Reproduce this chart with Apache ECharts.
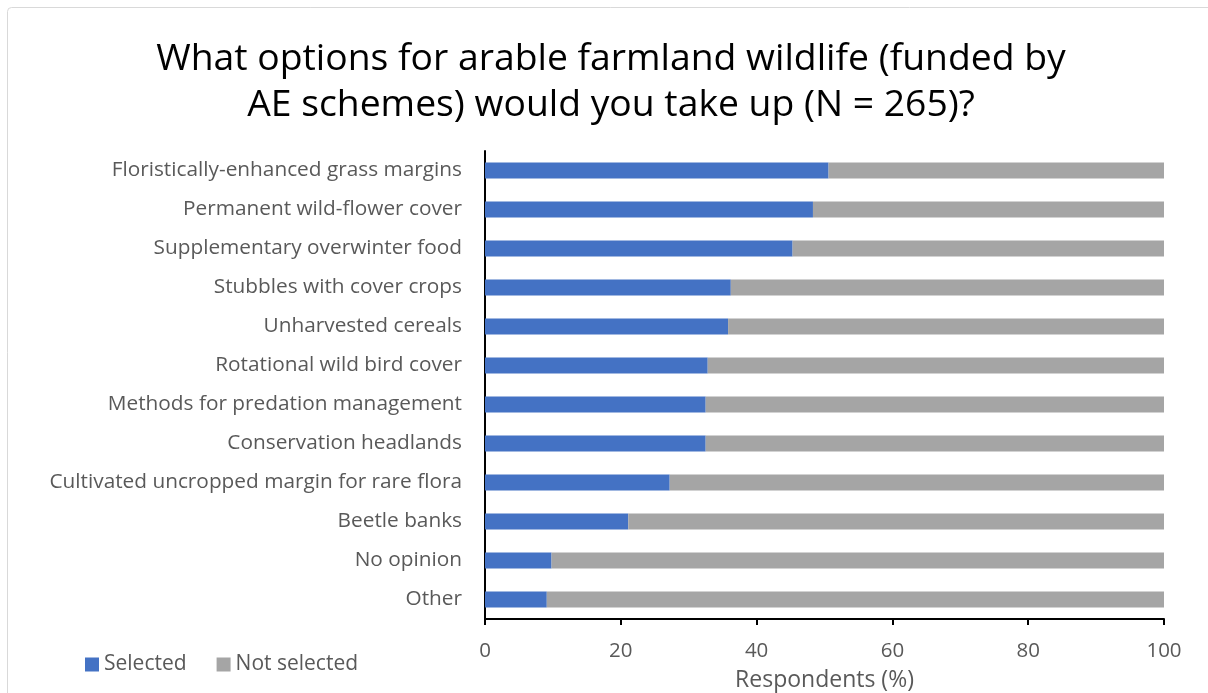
<!DOCTYPE html>
<html>
<head>
<meta charset="utf-8">
<script src="https://cdn.jsdelivr.net/npm/echarts@6/dist/echarts.min.js"></script>
<style>
  html, body { margin: 0; padding: 0; background: #ffffff; overflow: hidden; }
  #chart { width: 1208px; height: 693px; }
</style>
</head>
<body>
<div id="chart"></div>
<script>
// Options listed from top of the chart to bottom
const categories = [
  'Floristically-enhanced grass margins',
  'Permanent wild-flower cover',
  'Supplementary overwinter food',
  'Stubbles with cover crops',
  'Unharvested cereals',
  'Rotational wild bird cover',
  'Methods for predation management',
  'Conservation headlands',
  'Cultivated uncropped margin for rare flora',
  'Beetle banks',
  'No opinion',
  'Other'
];
// Share of respondents (%) choosing each option
const selected = [50.6, 48.3, 45.3, 36.2, 35.8, 32.8, 32.5, 32.5, 27.2, 21.1, 9.8, 9.1];
const notSelected = [49.4, 51.7, 54.7, 63.8, 64.2, 67.2, 67.5, 67.5, 72.8, 78.9, 90.2, 90.9];
const xTicks = [0, 20, 40, 60, 80, 100];

const FONT = '"Open Sans", "Noto Sans", sans-serif';
const TEXT = '#595959';

const chart = echarts.init(document.getElementById('chart'), null, { renderer: 'canvas' });

chart.setOption({
  backgroundColor: '#ffffff',
  animation: false,
  title: {
    text: 'What options for arable farmland wildlife (funded by\nAE schemes) would you take up (N = 265)?',
    left: 606,
    top: 31,
    textAlign: 'center',
    textStyle: {
      fontFamily: FONT,
      fontSize: 37.3,
      fontWeight: 'normal',
      color: '#000000',
      lineHeight: 46
    }
  },
  graphic: [{
    type: 'rect',
    silent: true,
    shape: { x: 7.5, y: 7.5, width: 1220, height: 720, r: 4 },
    style: { fill: 'none', stroke: '#d9d9d9', lineWidth: 1 }
  }],
  legend: {
    left: 85,
    top: 654,
    padding: 0,
    itemWidth: 14,
    itemHeight: 14,
    itemGap: 30,
    icon: 'rect',
    textStyle: { fontFamily: FONT, fontSize: 21, color: TEXT },
    data: ['Selected', 'Not selected']
  },
  grid: {
    left: 485,
    right: 44,
    top: 151,
    bottom: 74,
    containLabel: false,
    outerBoundsMode: 'none'
  },
  xAxis: {
    type: 'value',
    min: xTicks[0],
    max: xTicks[xTicks.length - 1],
    interval: xTicks[1] - xTicks[0],
    name: 'Respondents (%)',
    nameLocation: 'middle',
    nameGap: 50,
    nameTextStyle: { fontFamily: FONT, fontSize: 23, color: TEXT },
    axisLine: { show: true, lineStyle: { color: '#000000', width: 2 } },
    axisTick: { show: true, inside: false, length: 6, lineStyle: { color: '#000000', width: 2 } },
    splitLine: { show: false },
    axisLabel: { fontFamily: FONT, fontSize: 20.5, color: TEXT, margin: 22 }
  },
  yAxis: {
    type: 'category',
    inverse: true,
    data: categories,
    axisLine: { show: true, lineStyle: { color: '#000000', width: 2 } },
    axisTick: { show: false },
    axisLabel: { fontFamily: FONT, fontSize: 20.8, color: TEXT, margin: 23 }
  },
  series: [
    {
      name: 'Selected',
      type: 'bar',
      stack: 'total',
      barWidth: 16,
      itemStyle: { color: '#4472C4' },
      data: selected
    },
    {
      name: 'Not selected',
      type: 'bar',
      stack: 'total',
      barWidth: 16,
      itemStyle: { color: '#A5A5A5' },
      data: notSelected
    }
  ]
});
</script>
</body>
</html>
